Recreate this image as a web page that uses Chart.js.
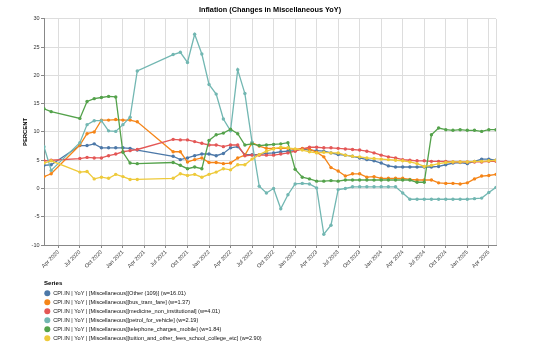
<!DOCTYPE html>
<html>
<head>
<meta charset="utf-8">
<title>Inflation (Changes in Miscellaneous YoY)</title>
<script src="https://cdn.jsdelivr.net/npm/chart.js@4.4.1/dist/chart.umd.min.js"></script>
<style>
  html, body { margin: 0; padding: 0; background: #fff; }
  #wrap { position: relative; width: 552px; height: 351px; }
</style>
</head>
<body>
<div id="wrap"><canvas id="chart" width="552" height="351"></canvas></div>
<script>
// months with data (gaps in Apr-Jun 2020 and Apr-Jul 2021)
const months = [
  '2020-02', '2020-03', '2020-07', '2020-08', '2020-09', '2020-10', '2020-11', '2020-12',
  '2021-01', '2021-02', '2021-03', '2021-08', '2021-09', '2021-10', '2021-11', '2021-12',
  '2022-01', '2022-02', '2022-03', '2022-04', '2022-05', '2022-06', '2022-07', '2022-08', '2022-09', '2022-10', '2022-11', '2022-12',
  '2023-01', '2023-02', '2023-03', '2023-04', '2023-05', '2023-06', '2023-07', '2023-08', '2023-09', '2023-10', '2023-11', '2023-12',
  '2024-01', '2024-02', '2024-03', '2024-04', '2024-05', '2024-06', '2024-07', '2024-08', '2024-09', '2024-10', '2024-11', '2024-12',
  '2025-01', '2025-02', '2025-03', '2025-04', '2025-05'
];

const otherValues = [
  4.1, 4.2, 7.6, 7.6, 7.9, 7.2, 7.2, 7.2, 7.2, 7.1, 6.8,
  5.7, 5.1, 5.4, 5.8, 6.1, 6.1, 5.8, 6.2, 7.2, 7.4,
  6.0, 6.0, 6.0, 6.2, 6.3, 6.5, 6.6, 6.7, 7.0, 6.8,
  6.7, 6.6, 6.3, 6.0, 5.9, 5.7, 5.4, 5.1, 4.9, 4.5,
  4.0, 3.8, 3.8, 3.8, 3.8, 3.8, 3.8, 3.9, 4.2, 4.5,
  4.6, 4.4, 4.8, 5.2, 5.2, 5.0
];
const busValues = [
  2.1, 2.6, 7.7, 9.7, 10.0, 12.1, 12.1, 12.2, 12.1, 12.1, 11.8,
  6.5, 6.5, 4.7, 5.1, 5.4, 4.6, 4.6, 4.4, 4.5, 5.4,
  5.9, 8.1, 7.5, 7.1, 7.1, 7.1, 7.1, 6.9, 7.1, 7.0,
  6.4, 5.6, 3.7, 3.1, 2.2, 2.6, 2.6, 2.0, 2.1, 1.8,
  1.8, 1.8, 1.8, 1.6, 1.5, 1.5, 1.5, 1.0, 0.9, 0.9,
  0.8, 1.0, 1.7, 2.2, 2.3, 2.5
];
const medicineValues = [
  4.9, 5.0, 5.3, 5.5, 5.4, 5.4, 5.8, 6.1, 6.5, 6.7, 6.9,
  8.7, 8.6, 8.6, 8.3, 8.0, 7.7, 7.7, 7.4, 7.7, 7.7,
  5.8, 5.9, 5.9, 5.9, 5.9, 6.1, 6.3, 6.6, 7.0, 7.3,
  7.3, 7.2, 7.2, 7.1, 7.0, 6.9, 6.8, 6.6, 6.3, 5.9,
  5.6, 5.4, 5.1, 5.0, 4.9, 4.9, 4.8, 4.8, 4.8, 4.7,
  4.7, 4.7, 4.7, 4.7, 4.8, 4.8
];
const petrolValues = [
  7.4, 3.2, 8.1, 11.3, 12.0, 12.0, 10.2, 10.1, 11.3, 12.6, 20.8,
  23.7, 24.1, 22.3, 27.3, 23.8, 18.4, 16.7, 12.3, 10.2, 21.0,
  16.8, 8.2, 0.4, -0.8, 0.0, -3.6, -1.1, 0.8, 0.9, 0.8,
  0.1, -8.1, -6.5, -0.2, 0.0, 0.3, 0.3, 0.3, 0.3, 0.3,
  0.3, 0.3, -0.8, -1.9, -1.9, -1.9, -1.9, -1.9, -1.9, -1.9,
  -1.9, -1.9, -1.8, -1.7, -0.7, 0.2
];
const mobileValues = [
  14.1, 13.6, 12.4, 15.4, 15.9, 16.1, 16.3, 16.2, 6.4, 4.5, 4.4,
  4.6, 4.1, 3.5, 3.8, 3.5, 8.5, 9.5, 9.8, 10.5, 9.7,
  7.7, 7.9, 7.6, 7.7, 7.8, 7.9, 8.1, 3.4, 2.0, 1.7,
  1.3, 1.3, 1.4, 1.3, 1.5, 1.5, 1.5, 1.5, 1.5, 1.5,
  1.5, 1.5, 1.5, 1.5, 1.1, 1.1, 9.5, 10.7, 10.4, 10.3,
  10.4, 10.3, 10.3, 10.1, 10.4, 10.4
];
const tuitionValues = [
  4.5, 4.9, 2.9, 3.0, 1.7, 2.0, 1.8, 2.5, 2.1, 1.6, 1.6,
  1.8, 2.6, 2.3, 2.5, 2.0, 2.5, 2.9, 3.5, 3.3, 4.2,
  4.2, 5.2, 6.0, 6.6, 7.0, 7.3, 7.2, 7.0, 6.8, 6.5,
  6.3, 6.4, 6.3, 6.3, 5.9, 5.7, 5.6, 5.4, 5.3, 5.2,
  5.1, 5.0, 4.9, 4.7, 4.4, 3.9, 4.1, 4.4, 4.6, 4.7,
  4.7, 4.7, 4.8, 4.8, 4.9, 5.0
];

const seriesLabels = [
  'CPI.IN | YoY | [Miscellaneous][Other (109)] (w=16.01)',
  'CPI.IN | YoY | [Miscellaneous][bus_tram_fare] (w=1.37)',
  'CPI.IN | YoY | [Miscellaneous][medicine_non_institutional] (w=4.01)',
  'CPI.IN | YoY | [Miscellaneous][petrol_for_vehicle] (w=2.19)',
  'CPI.IN | YoY | [Miscellaneous][telephone_charges_mobile] (w=1.84)',
  'CPI.IN | YoY | [Miscellaneous][tuition_and_other_fees_school_college_etc] (w=2.90)'
];
const seriesColors = ['#4c78a8', '#f58518', '#e45756', '#72b7b2', '#54a24b', '#eeca3b'];

const tickLabels = [
  'Apr 2020', 'Jul 2020', 'Oct 2020', 'Jan 2021', 'Apr 2021', 'Jul 2021', 'Oct 2021',
  'Jan 2022', 'Apr 2022', 'Jul 2022', 'Oct 2022', 'Jan 2023', 'Apr 2023', 'Jul 2023',
  'Oct 2023', 'Jan 2024', 'Apr 2024', 'Jul 2024', 'Oct 2024', 'Jan 2025', 'Apr 2025'
];
const yTicks = [-10, -5, 0, 5, 10, 15, 20, 25, 30];

const FONT = '"Liberation Sans", Arial, sans-serif';
const MONTH_NAMES = ['Jan', 'Feb', 'Mar', 'Apr', 'May', 'Jun', 'Jul', 'Aug', 'Sep', 'Oct', 'Nov', 'Dec'];

// month index counted from Jan 2020
function monthIndex(ym) {
    const [y, m] = ym.split('-').map(Number);
    return (y - 2020) * 12 + (m - 1);
}
function labelIndex(label) {
    const [mon, year] = label.split(' ');
    return (Number(year) - 2020) * 12 + MONTH_NAMES.indexOf(mon);
}

const xValues = months.map(monthIndex);
const tickValues = tickLabels.map(labelIndex);
const allSeries = [otherValues, busValues, medicineValues, petrolValues, mobileValues, tuitionValues];

const datasets = allSeries.map((values, i) => ({
    label: seriesLabels[i],
    data: values.map((v, j) => ({ x: xValues[j], y: v })),
    borderColor: seriesColors[i],
    backgroundColor: seriesColors[i],
    borderWidth: 1.3,
    pointRadius: 1.7,
    pointHoverRadius: 1.7,
    pointBorderWidth: 0,
    tension: 0,
    order: allSeries.length - i
}));

// title centred over the plot area, like the original
const centerTitle = {
    id: 'centerTitle',
    afterLayout(chart) {
        chart.titleBlock.left = chart.chartArea.left;
        chart.titleBlock.right = chart.chartArea.right;
    }
};

// light frame on the right side of the plot
const frame = {
    id: 'frame',
    beforeDatasetsDraw(chart) {
        const { ctx, chartArea } = chart;
        ctx.save();
        ctx.strokeStyle = '#dddddd';
        ctx.lineWidth = 1;
        ctx.beginPath();
        ctx.moveTo(chartArea.right + 0.5, chartArea.top);
        ctx.lineTo(chartArea.right + 0.5, chartArea.bottom);
        ctx.stroke();
        ctx.restore();
    }
};

// "Series" legend, one entry per line under the axis
const seriesLegend = {
    id: 'seriesLegend',
    afterDraw(chart) {
        const ctx = chart.ctx;
        const left = chart.chartArea.left;
        ctx.save();
        ctx.textBaseline = 'middle';
        ctx.textAlign = 'left';
        ctx.fillStyle = '#000';
        ctx.font = 'bold 6.1px ' + FONT;
        ctx.fillText('Series', left, 283.5);
        ctx.font = '5.6px ' + FONT;
        chart.data.datasets.forEach((ds, i) => {
            const y = 293.3 + i * 9;
            ctx.beginPath();
            ctx.arc(left + 3.3, y, 3, 0, Math.PI * 2);
            ctx.fillStyle = ds.borderColor;
            ctx.fill();
            ctx.fillStyle = '#111';
            ctx.fillText(ds.label, left + 9.3, y);
        });
        ctx.restore();
    }
};

new Chart(document.getElementById('chart'), {
    type: 'line',
    data: { datasets: datasets },
    plugins: [centerTitle, frame, seriesLegend],
    options: {
        responsive: false,
        animation: false,
        events: [],
        layout: { padding: { left: 0, right: 56, top: 0, bottom: 76 } },
        plugins: {
            legend: { display: false },
            tooltip: { enabled: false },
            title: {
                display: true,
                text: 'Inflation (Changes in Miscellaneous YoY)',
                color: '#000',
                font: { family: FONT, size: 7.3, weight: 'bold', lineHeight: 1.2 },
                padding: { top: 5.6, bottom: 4.6 }
            }
        },
        scales: {
            x: {
                type: 'linear',
                min: monthIndex('2020-02'),
                max: monthIndex('2025-05'),
                afterBuildTicks: scale => {
                    scale.ticks = tickValues.map(v => ({ value: v }));
                },
                afterFit: scale => { scale.height = 30; },
                ticks: {
                    autoSkip: false,
                    minRotation: 45,
                    maxRotation: 45,
                    padding: 1,
                    color: '#333',
                    font: { family: FONT, size: 5.5 },
                    callback: (value, index) => tickLabels[index]
                },
                grid: { color: '#dddddd', tickColor: '#888888', tickLength: 3, lineWidth: 1 },
                border: { display: true, color: '#888888', width: 1 }
            },
            y: {
                min: -10,
                max: 30,
                afterBuildTicks: scale => {
                    scale.ticks = yTicks.map(v => ({ value: v }));
                },
                afterFit: scale => { scale.width = 44; },
                ticks: {
                    padding: 1.5,
                    color: '#333',
                    font: { family: FONT, size: 5.5 }
                },
                grid: { color: '#dddddd', tickColor: '#888888', tickLength: 3, lineWidth: 1 },
                border: { display: true, color: '#888888', width: 1 },
                title: {
                    display: true,
                    text: 'PERCENT',
                    color: '#000',
                    font: { family: FONT, size: 5.9, weight: 'bold', lineHeight: 1.2 },
                    padding: { top: 21.5, bottom: 0 }
                }
            }
        }
    }
});
</script>
</body>
</html>
